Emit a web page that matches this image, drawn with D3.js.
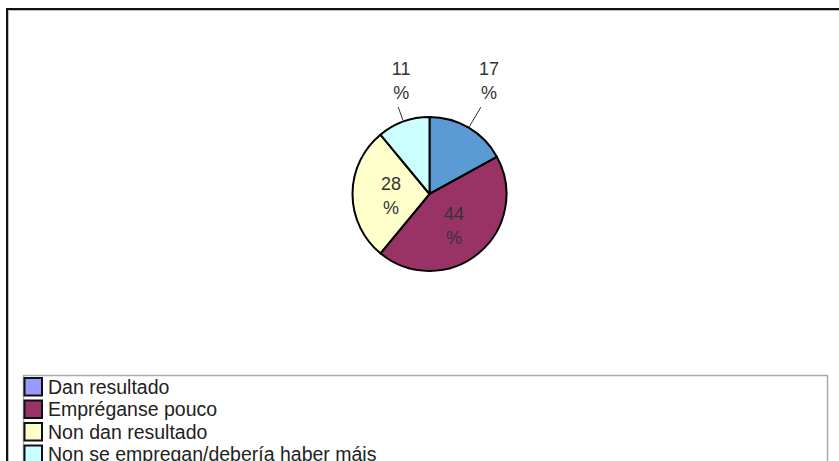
<!DOCTYPE html>
<html>
<head>
<meta charset="utf-8">
<script src="https://cdn.jsdelivr.net/npm/d3@7"></script>
<style>
  body { margin: 0; background: #fff; }
  svg { display: block; font-family: "Liberation Sans", Arial, sans-serif; }
</style>
</head>
<body>
<svg class="chart" width="839" height="461"></svg>
<script>
// data
const categories = ["Dan resultado", "Empréganse pouco", "Non dan resultado", "Non se empregan/debería haber máis"];
const values = [17, 44, 28, 11];
const sliceColors = ["#5b9bd5", "#993366", "#ffffcc", "#ccffff"];
const legendColors = ["#9999ff", "#993366", "#ffffcc", "#ccffff"];
const outside = [true, false, false, true];

const svg = d3.select(".chart");

// outer frame (runs off the right and bottom edges)
svg.append('rect')
    .attr('x', 7).attr('y', 9).attr('width', 900).attr('height', 600)
    .attr('fill', 'none').attr('stroke', '#111').attr('stroke-width', 2);
svg.append('path')
    .attr('d', 'M8.5,900V10.5H900')
    .attr('fill', 'none').attr('stroke', '#bbb').attr('stroke-width', 1);

const cx = 429.5, cy = 194, r = 77;
const g = svg.append('g').attr('transform', `translate(${cx},${cy})`);

const pie = d3.pie().sort(null).value(d => d);
const arcs = pie(values);
const arc = d3.arc().innerRadius(0).outerRadius(r);

g.selectAll('path.slice').data(arcs)
    .enter().append('path')
    .attr('class', 'slice')
    .attr('d', arc)
    .attr('fill', (d, i) => sliceColors[i])
    .attr('stroke', '#000')
    .attr('stroke-width', 2)
    .attr('stroke-linejoin', 'round');

// labels
arcs.forEach((d, i) => {
    const a = (d.startAngle + d.endAngle) / 2;
    let tx, ty;
    if (outside[i]) {
        const sx = Math.sin(a) * (r + 1), sy = -Math.cos(a) * (r + 1);
        const endY = 107 - cy;
        const rr = -endY / Math.cos(a);
        const ex = Math.sin(a) * rr;
        g.append('line')
            .attr('x1', sx).attr('y1', sy).attr('x2', ex).attr('y2', endY)
            .attr('stroke', '#333').attr('stroke-width', 1);
        tx = ex + (a < Math.PI ? 8 : 3); ty = 75 - cy;
    } else {
        const c = arc.centroid(d);
        tx = c[0]; ty = c[1] - 4;
    }
    const t = g.append('text')
        .attr('text-anchor', 'middle')
        .attr('font-size', 18)
        .attr('fill', '#333');
    t.append('tspan').attr('x', tx).attr('y', ty).text(values[i]);
    t.append('tspan').attr('x', tx).attr('y', ty + 24).text('%');
});

// legend
const lg = svg.append('g');
lg.append('rect')
    .attr('x', 23.5).attr('y', 375.5).attr('width', 804).attr('height', 120)
    .attr('fill', '#fff').attr('stroke', '#aaa').attr('stroke-width', 1.5);

const rowY = d3.scaleLinear().domain([0, 1]).range([377, 399.5]);
const items = lg.selectAll('g.item').data(categories)
    .enter().append('g').attr('class', 'item');
items.append('rect')
    .attr('x', 24.5).attr('y', (d, i) => rowY(i) + 1)
    .attr('width', 17.5).attr('height', 17.5)
    .attr('fill', (d, i) => legendColors[i])
    .attr('stroke', '#111').attr('stroke-width', 2);
items.append('text')
    .attr('x', 48).attr('y', (d, i) => rowY(i) + 16.5)
    .attr('font-size', 19.5)
    .attr('fill', '#222')
    .text(d => d);
</script>
</body>
</html>
